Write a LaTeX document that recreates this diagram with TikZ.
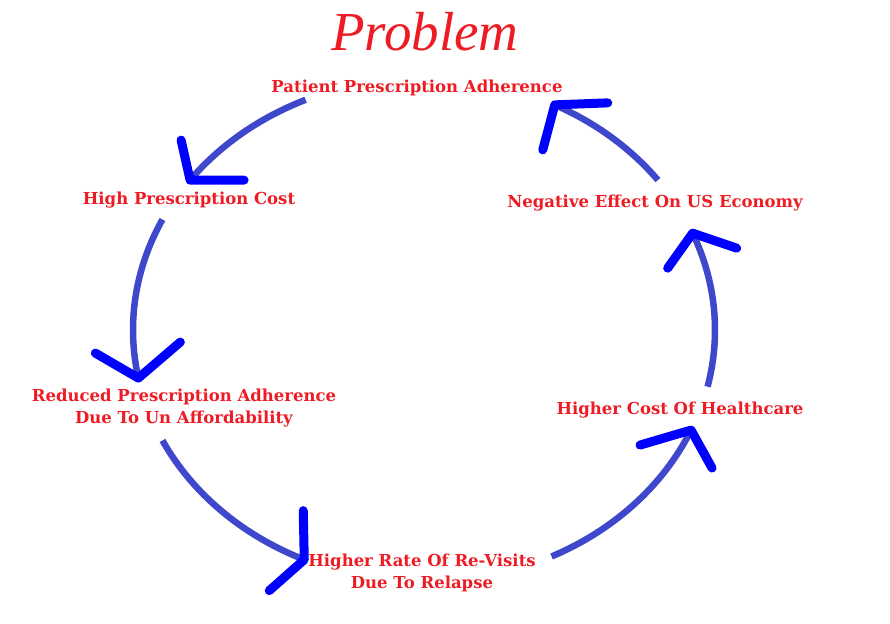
\documentclass[tikz,border=0pt]{standalone}
\usepackage{fontspec}
\setmainfont{DejaVu Serif}
\newfontfamily\titlefont{Liberation Serif}
\usepackage{xcolor}
\usepackage{tikz}
\definecolor{txtred}{RGB}{237,28,36}
\definecolor{arcblue}{RGB}{63,72,204}
\definecolor{headblue}{RGB}{0,0,255}
\tikzstyle{stage} = [text=txtred, font=\bfseries\fontsize{16.5}{22}\selectfont, align=center, inner sep=0pt]
\tikzstyle{cyclearc} = [draw=arcblue, line width=6.5pt]
\tikzstyle{head} = [draw=headblue, line width=9pt, line cap=round, line join=round]

\begin{document}
\begin{tikzpicture}[x=1pt, y=1pt]
   \useasboundingbox (0,0) rectangle (890,623);
   \coordinate (c) at (424,293);
   \node (title) at (425,591) [text=txtred, font=\titlefont\itshape\fontsize{55}{60}\selectfont] {Problem};
   \node (patient) at (417,535) [stage] {Patient Prescription Adherence};
   \node (highcost) at (189,423) [stage] {High Prescription Cost};
   \node (reduced) at (184,215) [stage] {Reduced Prescription Adherence\\Due To Un Affordability};
   \node (revisits) at (422,50) [stage] {Higher Rate Of Re-Visits\\Due To Relapse};
   \node (healthcare) at (680,213) [stage] {Higher Cost Of Healthcare};
   \node (economy) at (655,420) [stage] {Negative Effect On US Economy};
   % arcs of the cycle
   \draw [cyclearc] ([shift={(114:291 and 252)}]c) arc [start angle=114, end angle=143.5, x radius=291, y radius=252] coordinate (e1);
   \draw [cyclearc] ([shift={(154:291 and 252)}]c) arc [start angle=154, end angle=191, x radius=291, y radius=252] coordinate (e2);
   \draw [cyclearc] ([shift={(206:291 and 252)}]c) arc [start angle=206, end angle=245.7, x radius=291, y radius=252] coordinate (e3);
   \draw [cyclearc] ([shift={(296:291 and 252)}]c) arc [start angle=296, end angle=336.6, x radius=291, y radius=252] coordinate (e4);
   \draw [cyclearc] ([shift={(347:291 and 252)}]c) arc [start angle=347, end angle=382.6, x radius=291, y radius=252] coordinate (e5);
   \draw [cyclearc] ([shift={(36.5:291 and 252)}]c) arc [start angle=36.5, end angle=63.3, x radius=291, y radius=252] coordinate (e6);
   % heads
   \draw [head] ([shift={(-9,40)}]e1) -- (e1) -- ++(54,0);
   \draw [head] ([shift={(-43,25)}]e2) -- (e2) -- ++(42,36);
   \draw [head] ([shift={(-1,49)}]e3) -- (e3) -- ++(-35,-31);
   \draw [head] ([shift={(-51,-15)}]e4) -- (e4) -- ++(21,-38);
   \draw [head] ([shift={(-25,-35)}]e5) -- (e5) -- ++(44,-15);
   \draw [head] ([shift={(53,2)}]e6) -- (e6) -- ++(-12,-45);
\end{tikzpicture}
\end{document}
